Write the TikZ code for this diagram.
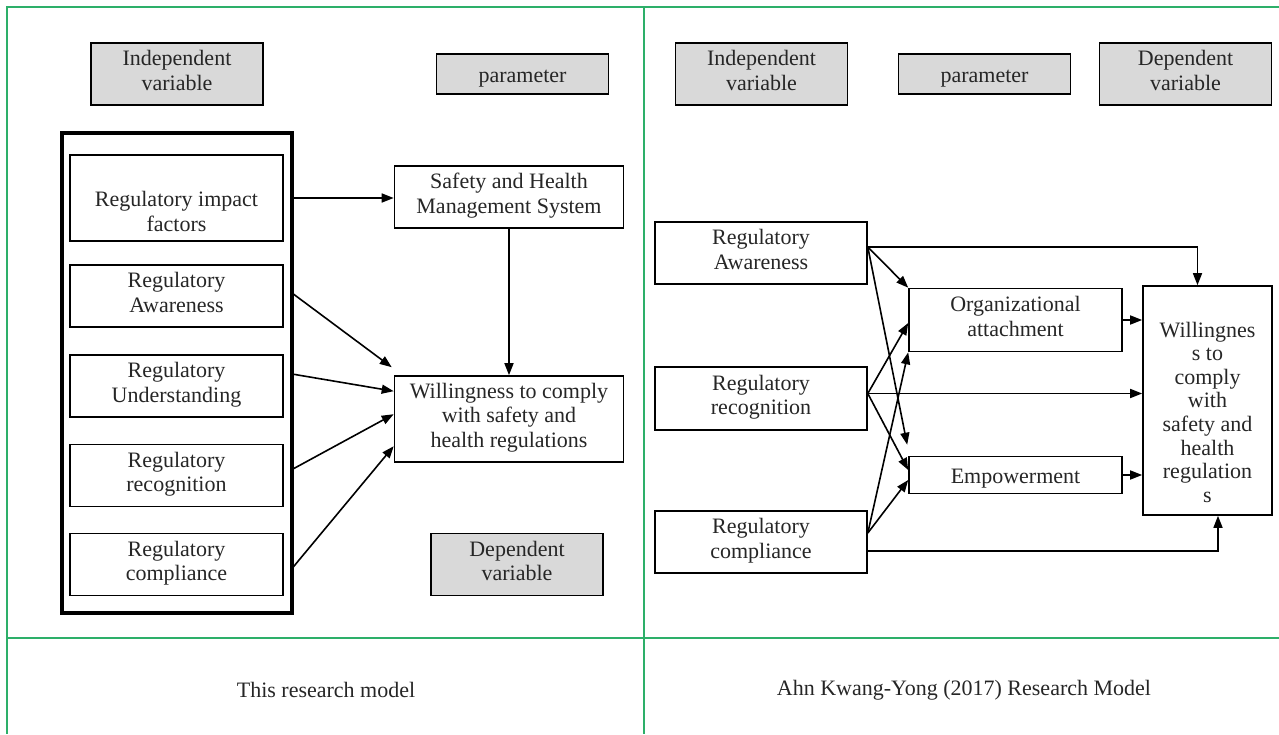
\documentclass[tikz,border=0pt]{standalone}
\usepackage{fontspec}
\setmainfont{Liberation Serif}
\usetikzlibrary{arrows.meta,calc,positioning}

\definecolor{gridgreen}{RGB}{45,175,105}
\definecolor{boxgray}{RGB}{217,217,217}

\tikzset{
  boxtext/.style = {align=center, inner sep=0pt,
    execute at begin node={\rule{0pt}{24pt}}, execute at end node={\strut}},
  varbox/.style = {draw, line width=1.6pt, fill=boxgray, boxtext,
    minimum width=172pt, minimum height=62pt},
  itembox/.style = {draw, line width=1.6pt, fill=white, boxtext,
    minimum width=213pt, minimum height=62pt},
  link/.style = {line width=1.6pt, ->},
  grid/.style = {gridgreen, line width=1.8pt},
}

\begin{document}
\begin{tikzpicture}[x=1pt, y=-1pt, >={Triangle[length=12pt,width=9pt]},
  font=\fontsize{22}{24.5}\selectfont, text=black!85]
\useasboundingbox (0,0) rectangle (1279,734);

% table lines
\draw [grid] (6,7) -- (1279,7);
\draw [grid] (7,7) -- (7,734);
\draw [grid] (644,7) -- (644,734);
\draw [grid] (7,638) -- (1279,638);

% this research model
\node [varbox] (indepL) at (177,74) {Independent\\variable};
\node [varbox, minimum height=40pt] (paramL) at (522.5,74) {parameter};
\node [varbox] (depL) at (517,564.5) {Dependent\\variable};

\draw [line width=3.2pt] (62,133) rectangle (292,613);
\coordinate (groupE) at (292,0);
\node [itembox, minimum height=86pt] (impact) at (176.5,198) {\rule{0pt}{49pt}Regulatory impact\\factors};
\node [itembox] (aware) at (176.5,296) {Regulatory\\Awareness};
\node [itembox] (under) at (176.5,386) {Regulatory\\Understanding};
\node [itembox] (recog) at (176.5,475.5) {Regulatory\\recognition};
\node [itembox] (compl) at (176.5,564.5) {Regulatory\\compliance};

\node [itembox, minimum width=229pt] (shms) at (509,197) {Safety and Health\\Management System};
\node [itembox, minimum width=229pt, minimum height=86pt] (will) at (509,419)
  {Willingness to comply\\with safety and\\health regulations};

\draw [link] (groupE |- impact) -- (shms.west |- impact);
\draw [link] (shms) -- (will);
\draw [link] ($(groupE |- aware)+(0,-3)$) -- ($(will.north west)+(-2,-8)$);
\draw [link] ($(groupE |- under)+(0,-12)$) -- ($(will.north west)+(0,16)$);
\draw [link] ($(groupE |- recog)+(0,-6)$) -- ($(will.north west)+(0,39)$);
\draw [link] ($(groupE |- compl)+(0,4)$) -- ($(will.north west)+(0,71)$);

\node (captionL) at (326,690) {This research model};

% Ahn Kwang-Yong (2017) model
\node [varbox] (indepR) at (761.5,74) {Independent\\variable};
\node [varbox, minimum height=40pt] (paramR) at (984.5,74) {parameter};
\node [varbox] (depR) at (1185.5,74) {Dependent\\variable};

\node [itembox, minimum width=212pt] (awareR) at (761,253) {Regulatory\\Awareness};
\node [itembox, minimum width=212pt, minimum height=63pt] (recogR) at (761,398.5) {Regulatory\\recognition};
\node [itembox, minimum width=212pt] (complR) at (761,542) {Regulatory\\compliance};
\node [itembox, minimum height=63pt] (attach) at (1015.5,320) {Organizational\\attachment};
\node [itembox, minimum height=37pt] (empower) at (1015.5,475) {Empowerment};
\node [itembox, minimum width=129pt, minimum height=229pt,
  font=\fontsize{22}{23.6}\selectfont] (willR) at (1207.5,400.5)
  {\rule{0pt}{45.5pt}Willingnes\\s to\\comply\\with\\safety and\\health\\regulation\\s};

\coordinate (aR) at ($(awareR.east)+(0,-6)$);
\coordinate (rR) at ($(recogR.east)+(0,-5)$);
\coordinate (cR) at ($(complR.east)+(0,-9)$);

\draw [link] (aR) -| ($(willR.north)+(-10,0)$);
\draw [link] (aR) -- (attach.north west);
\draw [link] (aR) -- ($(empower.north west)+(-1,-11)$);
\draw [link] (rR) -- (rR -| willR.west);
\draw [link] (rR) -- ($(attach.west)+(0,3)$);
\draw [link] (rR) -- ($(empower.west)+(0,-5)$);
\draw [link] (cR) -- (attach.south west);
\draw [link] (cR) -- ($(empower.west)+(0,5)$);
\draw [link] (attach) -- (attach -| willR.west);
\draw [link] (empower) -- (empower -| willR.west);
\draw [link] ($(complR.east)+(0,9)$) -| ($(willR.south)+(10.5,0)$);

\node (captionR) at (964,690) {Ahn Kwang-Yong (2017) Research Model};
\end{tikzpicture}
\end{document}
